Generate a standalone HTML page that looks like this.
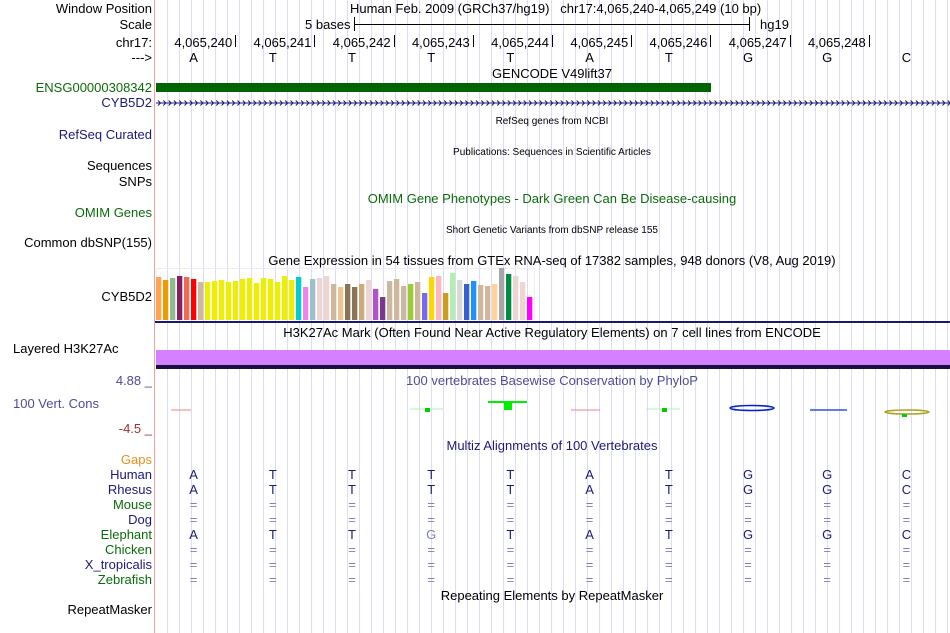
<!DOCTYPE html>
<html><head><meta charset="utf-8">
<style>
body{margin:0;width:950px;height:633px;background:#fff;position:relative;overflow:hidden;font-family:"Liberation Sans",sans-serif;font-size:13px;color:#000}
.t{position:absolute;white-space:nowrap;line-height:15px}
.l{position:absolute;right:798px;text-align:right;white-space:nowrap;line-height:15px}
.c{position:absolute;transform:translateX(-50%);white-space:nowrap;line-height:15px}
.s{font-size:10px}
.nv{color:#1a1a7a}.gr{color:#0a6b0a}.sl{color:#4c4c9c}
</style></head><body>
<svg id="grid" width="950" height="633" style="position:absolute;left:0;top:0"></svg>
<div style="position:absolute;left:154px;top:0;width:1px;height:633px;background:#f4a0a0"></div>

<div class="l" style="top:1px">Window Position</div>
<div class="l" style="top:17px">Scale</div>
<div class="l" style="top:35px">chr17:</div>
<div class="l" style="top:50px">---&gt;</div>
<div class="t" style="left:350px;top:1px">Human Feb. 2009 (GRCh37/hg19)&nbsp;&nbsp;&nbsp;chr17:4,065,240-4,065,249 (10 bp)</div>
<div class="t" style="left:305px;top:17px">5 bases</div>
<div style="position:absolute;left:355px;top:24px;width:395px;height:1px;background:#000"></div>
<div style="position:absolute;left:354px;top:17px;width:1px;height:14px;background:#000"></div>
<div style="position:absolute;left:749px;top:17px;width:1px;height:14px;background:#000"></div>
<div class="t" style="left:760px;top:17px">hg19</div>
<div id="ruler"></div>

<div class="c" style="left:552px;top:66px">GENCODE V49lift37</div>
<div class="l gr" style="top:80px">ENSG00000308342</div>
<div style="position:absolute;left:156px;top:83px;width:555px;height:9px;background:#006400"></div>
<div class="l nv" style="top:95px">CYB5D2</div>
<svg id="arrows" width="800" height="10" style="position:absolute;left:155px;top:98px"></svg>

<div class="c s" style="left:552px;top:114px">RefSeq genes from NCBI</div>
<div class="l nv" style="top:127px">RefSeq Curated</div>
<div class="c s" style="left:552px;top:145px">Publications: Sequences in Scientific Articles</div>
<div class="l" style="top:158px">Sequences</div>
<div class="l" style="top:174px">SNPs</div>
<div class="c gr" style="left:552px;top:191px">OMIM Gene Phenotypes - Dark Green Can Be Disease-causing</div>
<div class="l gr" style="top:205px">OMIM Genes</div>
<div class="c s" style="left:552px;top:223px">Short Genetic Variants from dbSNP release 155</div>
<div class="l" style="top:235px">Common dbSNP(155)</div>
<div class="c" style="left:552px;top:253px">Gene Expression in 54 tissues from GTEx RNA-seq of 17382 samples, 948 donors (V8, Aug 2019)</div>
<div class="l" style="top:289px">CYB5D2</div>
<div style="position:absolute;left:156px;top:268px;width:377px;height:52px;border:1px solid #eee;border-bottom:none"></div>
<svg id="gtex" width="400" height="60" style="position:absolute;left:150px;top:262px"></svg>
<div style="position:absolute;left:155px;top:321px;width:795px;height:2px;background:#191970"></div>

<div class="c" style="left:552px;top:325px">H3K27Ac Mark (Often Found Near Active Regulatory Elements) on 7 cell lines from ENCODE</div>
<div class="l" style="top:341px;right:800px;left:13px;text-align:left">Layered H3K27Ac</div>
<div style="position:absolute;left:156px;top:350px;width:794px;height:15px;background:#d580ff"></div>
<div style="position:absolute;left:156px;top:365px;width:794px;height:4px;background:#1a1040"></div>

<div class="l sl" style="top:373px">4.88 _</div>
<div class="c sl" style="left:552px;top:373px">100 vertebrates Basewise Conservation by PhyloP</div>
<div class="t sl" style="left:13px;top:396px">100 Vert. Cons</div>
<div class="l" style="top:421px;color:#9c3030">-4.5 _</div>
<svg width="950" height="40" style="position:absolute;left:0;top:395px">
<line x1="171" y1="15" x2="191" y2="15" stroke="#f08080" stroke-width="1"/>
<line x1="410" y1="14" x2="443" y2="14" stroke="#b0f0b0"/><rect x="425" y="13" width="5" height="4" fill="#0c0"/>
<line x1="488" y1="7" x2="527" y2="7" stroke="#0e0" stroke-width="2"/><rect x="504" y="7" width="8" height="8" fill="#0e0"/>
<line x1="571" y1="15" x2="600" y2="15" stroke="#f08080"/>
<line x1="646" y1="14" x2="680" y2="14" stroke="#b0f0b0"/><rect x="662" y="13" width="5" height="4" fill="#0c0"/>
<ellipse cx="752" cy="13" rx="22" ry="2.5" fill="none" stroke="#0020e0" stroke-width="1.5"/>
<line x1="810" y1="15" x2="847" y2="15" stroke="#3050e0" stroke-width="1.5"/>
<ellipse cx="907" cy="17" rx="22" ry="2" fill="none" stroke="#b0a020" stroke-width="1.5"/><rect x="902" y="19" width="5" height="3" fill="#0c0"/>
</svg>

<div class="c nv" style="left:552px;top:438px">Multiz Alignments of 100 Vertebrates</div>
<div id="aln"></div>
<div class="c" style="left:552px;top:588px">Repeating Elements by RepeatMasker</div>
<div class="l" style="top:602px">RepeatMasker</div>

<script>
var bases=["A","T","T","T","T","A","T","G","G","C"];
var positions=["4,065,240","4,065,241","4,065,242","4,065,243","4,065,244","4,065,245","4,065,246","4,065,247","4,065,248"];
var gtexValues=[43,40,42,44,43,41,38,38,39,40,38,39,41,42,37,42,41,38,44,40,43,33,41,42,44,36,33,36,33,36,40,31,23,39,41,34,36,38,27,43,44,27,47,40,36,39,35,34,36,52,46,44,38,23];
var gtexColors=["#FFA54F","#EE9A00","#8FBC8F","#8B1C62","#EE6A50","#FF0000","#CDB79E","#EEEE00","#EEEE00","#EEEE00","#EEEE00","#EEEE00","#EEEE00","#EEEE00","#EEEE00","#EEEE00","#EEEE00","#EEEE00","#EEEE00","#EEEE00","#00CDCD","#EE82EE","#9AC0CD","#EED5D2","#EED5D2","#CDB79E","#EEC591","#8B7355","#8B7355","#CDAA7D","#EED5D2","#B452CD","#7A378B","#CDB79E","#CDB79E","#CDB79E","#9ACD32","#CDB79E","#7A67EE","#FFD700","#FFB6C1","#CD9B1D","#B4EEB4","#D9D9D9","#3A5FCD","#1E90FF","#CDB79E","#CDB79E","#FFD39B","#A6A6A6","#008B45","#EED5D2","#EED5D2","#FF00FF"];
var species=["Human","Rhesus","Mouse","Dog","Elephant","Chicken","X_tropicalis","Zebrafish"];
var speciesColors=["#1a1a7a","#1a1a7a","#0a6b0a","#1a1a7a","#0a6b0a","#0a6b0a","#1a1a7a","#0a6b0a"];
var alignments=["ATTTTATGGC","ATTTTATGGC","==========","==========","ATTGTATGGC","==========","==========","=========="];

var NS="http://www.w3.org/2000/svg";
function baseX(i){return 154+79.2*i+39.6;}
var g=document.getElementById('grid');
for(var x=167.5;x<948;x+=12){var ln=document.createElementNS(NS,'line');


ln.setAttribute('x1',x);ln.setAttribute('x2',x);ln.setAttribute('y1',0);ln.setAttribute('y2',633);ln.setAttribute('stroke','#dcdcf4');g.appendChild(ln);}
var r=document.getElementById('ruler');
positions.forEach(function(p,i){var tx=154+79.2*(i+1)+2;
var d=document.createElement('div');d.className='t';d.style.left=(tx-80)+'px';d.style.width='77px';d.style.textAlign='right';d.style.top='35px';d.textContent=p;


r.appendChild(d);
var k=document.createElement('div');k.style.cssText='position:absolute;top:35px;width:1px;height:12px;background:#000;left:'+tx+'px';


r.appendChild(k);});
bases.forEach(function(b,i){var d=document.createElement('div');d.className='c';d.style.left=baseX(i)+'px';d.style.top='50px';d.textContent=b;


r.appendChild(d);});
var a=document.getElementById('arrows');
var hl=document.createElementNS(NS,'line');hl.setAttribute('x1',1);hl.setAttribute('x2',795);hl.setAttribute('y1',5);hl.setAttribute('y2',5);hl.setAttribute('stroke','#191970');a.appendChild(hl);
for(var ax=3;ax<793;ax+=5.3){var p=document.createElementNS(NS,'path');p.setAttribute('d','M'+ax+' 2.5 L'+(ax+2.5)+' 5 L'+ax+' 7.5');p.setAttribute('fill','none');p.setAttribute('stroke','#191970');a.appendChild(p);}
var gs=document.getElementById('gtex');var maxV=52;
function yScale(v){return 58-v/maxV*52;}
gtexValues.forEach(function(v,i){var rc=document.createElementNS(NS,'rect');


rc.setAttribute('x',6+i*7);rc.setAttribute('width',5.3);rc.setAttribute('y',yScale(v));rc.setAttribute('height',58-yScale(v));rc.setAttribute('fill',gtexColors[i]);gs.appendChild(rc);});
var al=document.getElementById('aln');
var gap=document.createElement('div');gap.className='l';gap.style.top='452px';gap.style.color='#e8901c';gap.textContent='Gaps';


al.appendChild(gap);
species.forEach(function(s,j){var y=467+15*j;
var d=document.createElement('div');d.className='l';d.style.top=y+'px';d.style.color=speciesColors[j];d.textContent=s;


al.appendChild(d);
for(var i=0;i<10;i++){var ch=alignments[j][i];var e=document.createElement('div');e.className='c';e.style.left=baseX(i)+'px';e.style.top=y+'px';
var grey=(ch!==bases[i]);e.style.color=(ch==='='||grey)?'#8080b8':'#1a1a7a';e.textContent=ch;


al.appendChild(e);}});
</script>
</body></html>
